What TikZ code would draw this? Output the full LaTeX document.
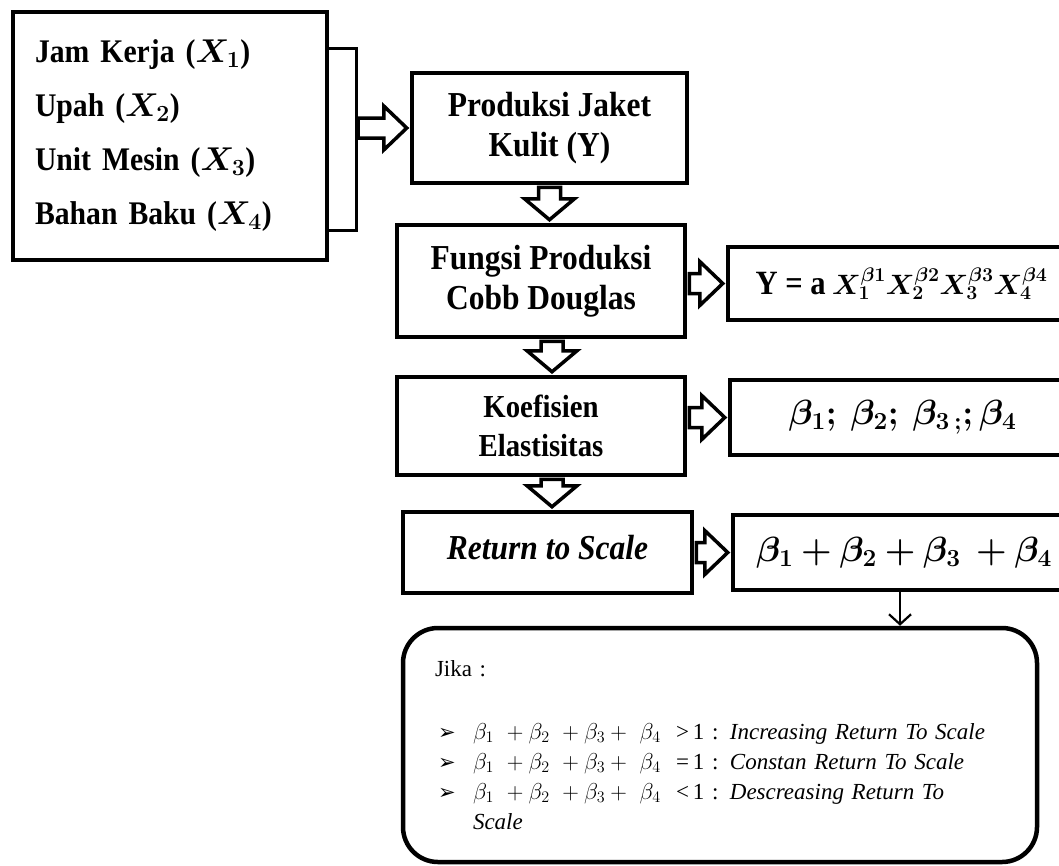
\documentclass[tikz,border=0pt]{standalone}
\usepackage{fix-cm}
\usepackage{bm}
\usepackage{fontspec}
\setmainfont{Liberation Serif}
\newfontfamily\boxfont{Liberation Serif}[FakeStretch=0.9]
\newfontfamily\dejavu{DejaVu Sans}
\usetikzlibrary{calc,arrows.meta}

\tikzset{
  box/.style={draw, line width=4.5pt, inner sep=0pt, align=center,
    font=\boxfont\bfseries\fontsize{35}{40}\selectfont},
  blockarrow/.style={draw, line width=3.5pt, fill=white, line join=miter},
  bracketline/.style={line width=3pt},
  jikabox/.style={draw, line width=4.5pt, rounded corners=35pt, inner sep=0pt,
    align=left, text width=570pt, font=\fontsize{23}{30}\selectfont},
}

% hollow block arrows
\newcommand{\blockright}[2]{%
  \draw[blockarrow] let \p1=(#1), \p2=(#2) in
    (\x1+2pt,\y2+10pt) -- (\x2-26pt,\y2+10pt) -- (\x2-26pt,\y2+22pt) -- (\x2-3pt,\y2)
    -- (\x2-26pt,\y2-22pt) -- (\x2-26pt,\y2-10pt) -- (\x1+2pt,\y2-10pt) -- cycle;}
\newcommand{\blockdown}[2]{%
  \draw[blockarrow] let \p1=(#1), \p2=(#2) in
    (\x1-11pt,\y1-2pt) -- (\x1-11pt,\y2+24pt) -- (\x1-25pt,\y2+24pt) -- (\x1,\y2+3pt)
    -- (\x1+25pt,\y2+24pt) -- (\x1+11pt,\y2+24pt) -- (\x1+11pt,\y1-2pt) -- cycle;}

\newcommand{\bul}{\hspace*{3pt}\makebox[35pt][l]{\dejavu\fontsize{21}{21}\selectfont ➢}}

\begin{document}
\begin{tikzpicture}[x=1pt, y=-1pt]
  \useasboundingbox (0,0) rectangle (1059,865);
  \clip (0,0) rectangle (1059,865);

  % inputs
  \node[box, minimum width=314pt, minimum height=248pt, align=left, text width=270pt,
    font=\boxfont\bfseries\fontsize{33}{54}\selectfont] (input) at (170,136)
    {Jam Kerja ($\bm{X_1}$)\\ Upah ($\bm{X_2}$)\\ Unit Mesin ($\bm{X_3}$)\\ Bahan Baku ($\bm{X_4}$)};

  \coordinate (brktop) at (356,48);
  \coordinate (brkbot) at (356,230);
  \coordinate (brk) at (356,130);
  \draw[bracketline] (input.east |- brktop) -- (brktop) -- (brkbot) -- (input.east |- brkbot);

  % main column
  \node[box, minimum width=275pt, minimum height=110pt] (produksi) at (549.5,128)
    {Produksi Jaket\\Kulit (Y)};
  \node[box, minimum width=288pt, minimum height=112pt] (fungsi) at (541,281)
    {Fungsi Produksi\\Cobb Douglas};
  \node[box, minimum width=288pt, minimum height=98pt,
    font=\boxfont\bfseries\fontsize{32}{39}\selectfont] (koef) at (541,426)
    {Koefisien\\Elastisitas};
  \node[box, minimum width=289pt, minimum height=81pt] (rts) at (547.5,552.5)
    {\raisebox{10pt}{\textit{Return to Scale}}};

  % right column
  \node[box, minimum width=347pt, minimum height=73pt,
    font=\boxfont\bfseries\fontsize{28}{40}\selectfont] (rumus) at (901.5,283.5)
    {{\fontsize{34}{40}\selectfont Y = a} $\bm{X_1^{\beta1}X_2^{\beta2}X_3^{\beta3}X_4^{\beta4}}$};
  \node[box, minimum width=345pt, minimum height=75pt] (beta) at (902.5,417.5)
    {$\bm{\beta_1;\ \beta_2;\ \beta_{3\,;};\beta_4}$};
  \node[box, minimum width=342pt, minimum height=75pt] (jumlah) at (904,552.5)
    {$\bm{\beta_1+\beta_2+\beta_3\ +\beta_4}$};

  \node[jikabox, minimum width=634pt, minimum height=234pt] (jika) at (720,745)
    {Jika :\\[33pt]
     \bul$\beta_1\ +\beta_2\ +\beta_3+\ \beta_4$\ \ >\,1 : \textit{Increasing Return To Scale}\\
     \bul$\beta_1\ +\beta_2\ +\beta_3+\ \beta_4$\ \ =\,1 : \textit{Constan Return To Scale}\\
     \bul$\beta_1\ +\beta_2\ +\beta_3+\ \beta_4$\ \ <\,1 : \textit{Descreasing Return To}\\
     \hspace*{38pt}\textit{Scale}};

  % connectors
  \blockright{brk}{produksi.west}
  \blockdown{produksi.south}{fungsi.north}
  \blockright{fungsi.east}{rumus.west}
  \blockdown{$(fungsi.south)+(11,0)$}{koef.north}
  \blockright{koef.east}{beta.west}
  \blockdown{$(koef.south)+(11,0)$}{rts.north}
  \blockright{rts.east}{jumlah.west}
  \draw[line width=2.2pt, -{Straight Barb[length=10pt,width=22pt]}]
    ($(jumlah.south)+(-4,0)$) -- ($(jumlah.south |- jika.north)+(-4,0)$);
\end{tikzpicture}
\end{document}
